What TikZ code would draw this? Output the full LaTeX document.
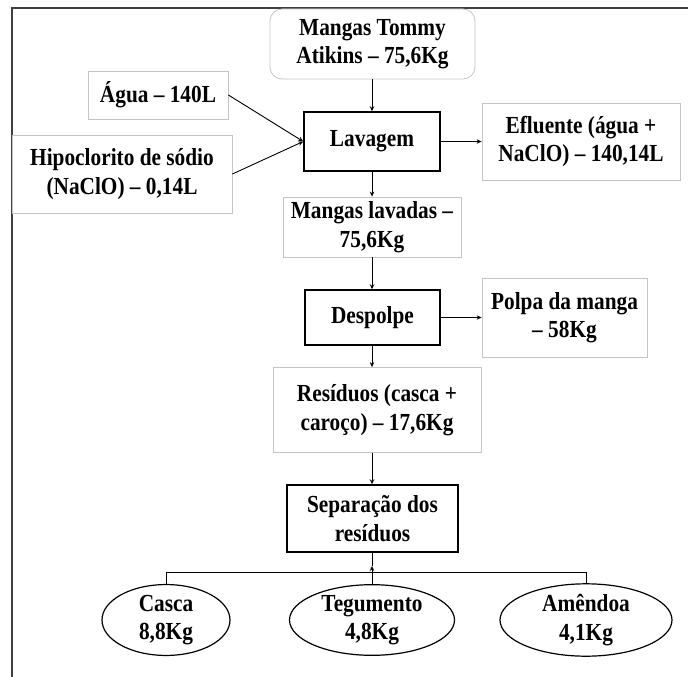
\documentclass[tikz,border=0pt]{standalone}
\usepackage{fontspec}
\setmainfont{Liberation Serif}[FakeStretch=0.87]
\usetikzlibrary{arrows.meta,shapes.geometric}

\definecolor{boxgray}{HTML}{C4C4C4}
\definecolor{framegray}{HTML}{404040}

\tikzset{
  txt/.style={font=\bfseries\fontsize{24.5}{28.5}\selectfont, align=center, inner sep=0pt},
  inputbox/.style={txt, draw=boxgray, line width=0.8pt, fill=white},
  procbox/.style={txt, draw=black, line width=1.5pt, fill=white},
  partoval/.style={txt, ellipse, draw=black, line width=1.2pt, fill=white},
  flow/.style={-{Stealth[length=5pt,width=4.5pt]}, line width=0.9pt},
  plain/.style={line width=0.9pt},
  framerule/.style={draw=framegray, line width=1.5pt}
}

\begin{document}
\begin{tikzpicture}[x=1pt, y=-1pt]
  \useasboundingbox (0,0) rectangle (688,677);

  % outer frame (top and left rules only)
  \coordinate (fTR) at (688,8);
  \coordinate (fTL) at (12,8);
  \coordinate (fBL) at (12,677);
  \draw[framerule] (fTR) -- (fTL) -- (fBL);

  % inputs and products
  \node[inputbox, rounded corners=12pt, minimum width=205pt, minimum height=70pt] (mangas) at (372.5,44) {Mangas Tommy\\Atikins – 75,6Kg};
  \node[inputbox, minimum width=140pt, minimum height=48pt] (agua) at (158,95) {Água – 140L};
  \node[inputbox, minimum width=220pt, minimum height=78pt] (hipo) at (122,174) {Hipoclorito de sódio\\(NaClO) – 0,14L};
  \node[inputbox, minimum width=198pt, minimum height=77pt] (eflu) at (581,141.5) {Efluente (água +\\NaClO) – 140,14L};
  \node[inputbox, minimum width=178pt, minimum height=60pt] (lavadas) at (372,227) {Mangas lavadas –\\75,6Kg};
  \node[inputbox, minimum width=165pt, minimum height=79pt] (polpa) at (564.5,317.5) {Polpa da manga\\– 58Kg};
  \node[inputbox, minimum width=208pt, minimum height=85pt] (resid) at (377,410) {Resíduos (casca +\\caroço) – 17,6Kg};

  % process steps
  \node[procbox, minimum width=136pt, minimum height=59pt] (lav) at (372,141.5) {Lavagem};
  \node[procbox, minimum width=135pt, minimum height=55pt] (desp) at (372.5,317.5) {Despolpe};
  \node[procbox, minimum width=171pt, minimum height=67pt] (sep) at (372.5,518.5) {Separação dos\\resíduos};

  % separated fractions
  \node[partoval, minimum width=128pt, minimum height=62pt] (casca) at (166,620) {Casca\\8,8Kg};
  \node[partoval, minimum width=165pt, minimum height=62pt] (teg) at (372,620) {Tegumento\\4,8Kg};
  \node[partoval, minimum width=172pt, minimum height=62pt] (amen) at (586,620) {Amêndoa\\4,1Kg};

  % flow
  \draw[flow] (mangas.south -| lav.north) -- (lav.north);
  \draw[flow] (agua.east) -- (lav.west);
  \draw[flow] (hipo.east) -- (lav.west);
  \draw[flow] (lav.east) -- (lav.east -| eflu.west);
  \draw[flow] (lav.south) -- (lavadas.north);
  \draw[flow] (lavadas.south) -- (lavadas.south |- desp.north);
  \draw[flow] (desp.east) -- (polpa.west);
  \draw[flow] (lav.south |- desp.south) -- (lav.south |- resid.north);
  \draw[flow] (lav.south |- resid.south) -- (lav.south |- sep.north);

  % branching bar below the separation step
  \coordinate (bar) at (372,572);
  \coordinate (bartip) at (372,566);
  \draw[plain] (casca.north) -- (casca.north |- bar) -- (amen.north |- bar) -- (amen.north);
  \draw[flow] (teg.north) -- (bartip);
  \draw[plain] (bartip) -- (bartip |- sep.south);
\end{tikzpicture}
\end{document}
